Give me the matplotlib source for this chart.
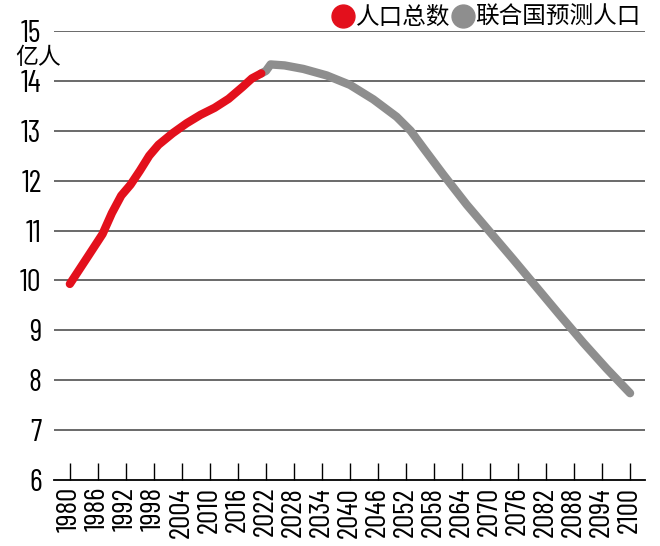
import matplotlib
matplotlib.use("Agg")
import matplotlib.pyplot as plt
from matplotlib.lines import Line2D
from matplotlib import font_manager as fm

# ---- data (亿人) ----
hist_years = [1980, 1984, 1987, 1989, 1991, 1993, 1995, 1997, 1999, 2002, 2005, 2008, 2011, 2014, 2017, 2019, 2021]
hist_pop = [9.93, 10.5, 10.93, 11.35, 11.7, 11.92, 12.2, 12.5, 12.72, 12.95, 13.15, 13.32, 13.46, 13.64, 13.88, 14.05, 14.15]

proj_years = [2021, 2022, 2023, 2026, 2030, 2035, 2040, 2045, 2050, 2053, 2056, 2060, 2065, 2070, 2075, 2080, 2085, 2090, 2095, 2100]
proj_pop = [14.15, 14.2, 14.33, 14.31, 14.24, 14.11, 13.92, 13.63, 13.28, 13.0, 12.62, 12.12, 11.52, 10.97, 10.42, 9.86, 9.3, 8.75, 8.23, 7.74]

x_ticks = list(range(1980, 2101, 6))
y_ticks = [6, 7, 8, 9, 10, 11, 12, 13, 14, 15]
legend_labels = ["人口总数", "联合国预测人口"]
unit_label = "亿人"

names = {f.name for f in fm.fontManager.ttflist}
num_font = "DejaVu Sans"
for cand in ["Barlow Condensed", "Roboto Condensed", "Archivo Narrow", "PT Sans Narrow",
             "Open Sans Condensed", "Liberation Sans Narrow", "DejaVu Sans Condensed"]:
    if cand in names:
        num_font = cand
        break
cjk = ["Noto Sans CJK SC", "DejaVu Sans"]

RED = "#e3101c"
GRAY = "#8e8e8e"

fig = plt.figure(figsize=(6.6, 5.46), dpi=100)
ax = fig.add_axes([54/660, 1-480/546, (645-54)/660, (480-31)/546])

ax.set_xlim(1976.6, 2103.2)
ax.set_ylim(6, 15)

for v in y_ticks[1:]:
    ax.axhline(v, color="#505050", lw=1.2, zorder=1)

ax.plot(proj_years, proj_pop, color=GRAY, lw=6, solid_capstyle="round", solid_joinstyle="round", zorder=3)
ax.plot(hist_years, hist_pop, color=RED, lw=6, solid_capstyle="round", solid_joinstyle="round", zorder=4)

for s in ["top", "right", "left"]:
    ax.spines[s].set_visible(False)
ax.spines["bottom"].set_color("black")
ax.spines["bottom"].set_linewidth(1.3)

ax.set_xticks(x_ticks)
ax.set_xticklabels([str(y) for y in x_ticks], rotation=90, fontfamily=num_font, fontsize=21.5)
ax.tick_params(axis="x", direction="in", length=12, width=1.0, color="black", pad=5)
ax.set_yticks(y_ticks)
ax.set_yticklabels([str(v) for v in y_ticks], fontfamily=num_font, fontsize=22)
ax.tick_params(axis="y", length=0, pad=9)

fig.text(38/660, 1-57.5/546, unit_label, family=cjk, fontsize=16.5, ha="center", va="center")

# legend
fig.add_artist(Line2D([343/660], [1-16/546], marker="o", markersize=16.5, color=RED, transform=fig.transFigure, linestyle="none"))
fig.text(356/660, 1-17/546, legend_labels[0], family=cjk, fontsize=17, ha="left", va="center")
fig.add_artist(Line2D([462.5/660], [1-16/546], marker="o", markersize=16.5, color=GRAY, transform=fig.transFigure, linestyle="none"))
fig.text(475/660, 1-17/546, legend_labels[1], family=cjk, fontsize=17, ha="left", va="center")

fig.savefig("out.png", dpi=100)
